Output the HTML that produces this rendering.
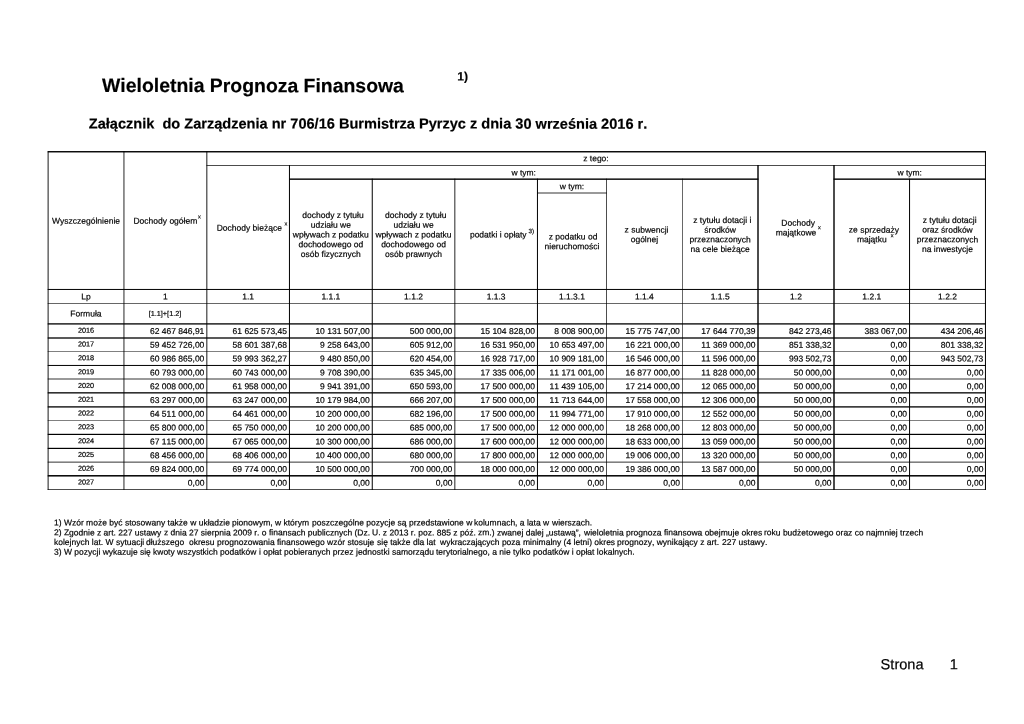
<!DOCTYPE html>
<html lang="pl">
<head>
<meta charset="utf-8">
<title>Wieloletnia Prognoza Finansowa</title>
<style>
html,body{margin:0;padding:0;background:#fff;}
body{width:1024px;height:724px;position:relative;overflow:hidden;font-family:"Liberation Sans",sans-serif;color:#000;text-rendering:geometricPrecision;font-kerning:none;font-variant-ligatures:none;}
.grid{position:absolute;left:0;top:0;}
.grid rect{fill:#000;}
.h,.y,.u,.v{-webkit-text-stroke:0.18px #000;paint-order:stroke fill;}
.P,.T,.S,.M{-webkit-text-stroke:0.18px #000;paint-order:stroke fill;}
.ln span{display:inline-block;transform-origin:0 0;white-space:pre;}
.t{position:absolute;left:0;top:0;margin:0;padding:0;height:0;line-height:0;white-space:pre;transform-origin:0 0;font-style:normal;vertical-align:baseline;}
.h{font-size:8.51px;font-weight:normal;}
.y{font-size:7.3px;font-weight:normal;}
.u{font-size:5.6px;font-weight:normal;}
.v{font-size:6.3px;font-weight:normal;}
.T{font-size:19.42px;font-weight:bold;}
.S{font-size:14.575px;font-weight:bold;}
.M{font-size:12.16px;font-weight:bold;}
.P{font-size:14.6px;font-weight:normal;}
</style>
</head>
<body>
<svg class="grid" width="1024" height="724" viewBox="0 0 1024 724" aria-hidden="true">
<rect x="47.70" y="151.05" width="938.15" height="1.40"/>
<rect x="206.45" y="165.15" width="779.40" height="0.70"/>
<rect x="289.05" y="178.45" width="469.35" height="1.40"/>
<rect x="833.60" y="178.45" width="152.25" height="1.40"/>
<rect x="537.05" y="192.60" width="69.80" height="0.80"/>
<rect x="47.70" y="288.95" width="938.15" height="1.00"/>
<rect x="47.70" y="303.00" width="938.15" height="0.60"/>
<rect x="47.70" y="323.25" width="938.15" height="1.30"/>
<rect x="47.70" y="337.35" width="938.15" height="1.30"/>
<rect x="47.70" y="351.30" width="938.15" height="0.50"/>
<rect x="47.70" y="364.95" width="938.15" height="1.00"/>
<rect x="47.70" y="378.60" width="938.15" height="0.80"/>
<rect x="47.70" y="392.20" width="938.15" height="1.30"/>
<rect x="47.70" y="406.25" width="938.15" height="1.30"/>
<rect x="47.70" y="420.20" width="938.15" height="0.50"/>
<rect x="47.70" y="433.80" width="938.15" height="1.20"/>
<rect x="47.70" y="447.80" width="938.15" height="1.20"/>
<rect x="47.70" y="461.70" width="938.15" height="0.80"/>
<rect x="47.70" y="475.05" width="938.15" height="1.50"/>
<rect x="47.70" y="489.10" width="938.15" height="0.70"/>
<rect x="47.65" y="151.25" width="0.90" height="338.70"/>
<rect x="123.53" y="151.25" width="0.85" height="338.70"/>
<rect x="206.40" y="151.25" width="0.90" height="338.70"/>
<rect x="984.95" y="151.25" width="1.00" height="338.70"/>
<rect x="288.95" y="165.00" width="1.00" height="324.95"/>
<rect x="757.30" y="165.00" width="1.40" height="324.95"/>
<rect x="833.30" y="165.00" width="1.40" height="324.95"/>
<rect x="371.75" y="178.65" width="1.00" height="311.30"/>
<rect x="454.43" y="178.65" width="0.85" height="311.30"/>
<rect x="536.95" y="178.65" width="1.00" height="311.30"/>
<rect x="606.10" y="178.65" width="0.70" height="311.30"/>
<rect x="682.05" y="178.65" width="0.60" height="311.30"/>
<rect x="909.05" y="178.65" width="1.00" height="311.30"/>
</svg>
<h1 class="t T" style="transform:matrix(1,0.0005,0,1,102.00,86.07)">Wieloletnia Prognoza Finansowa</h1>
<sup class="t M" style="transform:matrix(1,0.0005,0,1,457.30,76.40)">1)</sup>
<h2 class="t S" style="transform:matrix(1,0.0005,0,1,88.80,124.41)">Załącznik  do Zarządzenia nr 706/16 Burmistrza Pyrzyc z dnia 30 września 2016 r.</h2>
<div class="t h" style="transform:matrix(1,0.0005,0,1,51.97,220.78)">Wyszczególnienie</div>
<div class="t h" style="transform:matrix(1,0.0005,0,1,133.47,220.78)">Dochody ogółem</div>
<div class="t u" style="transform:matrix(1,0.0005,0,1,197.93,217.40)">x</div>
<div class="t h" style="transform:matrix(1,0.0005,0,1,583.18,158.22)">z tego:</div>
<div class="t h" style="transform:matrix(1,0.0005,0,1,216.71,227.66)">Dochody bieżące</div>
<div class="t u" style="transform:matrix(1,0.0005,0,1,284.39,224.47)">x</div>
<div class="t h" style="transform:matrix(1,0.0005,0,1,511.43,172.52)">w tym:</div>
<div class="t h" style="transform:matrix(1,0.0005,0,1,302.25,215.02)">dochody z tytułu</div>
<div class="t h" style="transform:matrix(1,0.0005,0,1,310.74,224.76)">udziału we</div>
<div class="t h" style="transform:matrix(1,0.0005,0,1,292.77,234.48)">wpływach z podatku</div>
<div class="t h" style="transform:matrix(1,0.0005,0,1,298.44,244.21)">dochodowego od</div>
<div class="t h" style="transform:matrix(1,0.0005,0,1,300.82,253.94)">osób fizycznych</div>
<div class="t h" style="transform:matrix(1,0.0005,0,1,384.95,215.02)">dochody z tytułu</div>
<div class="t h" style="transform:matrix(1,0.0005,0,1,393.44,224.76)">udziału we</div>
<div class="t h" style="transform:matrix(1,0.0005,0,1,375.47,234.48)">wpływach z podatku</div>
<div class="t h" style="transform:matrix(1,0.0005,0,1,381.14,244.21)">dochodowego od</div>
<div class="t h" style="transform:matrix(1,0.0005,0,1,384.93,253.95)">osób prawnych</div>
<div class="t h" style="transform:matrix(1,0.0005,0,1,469.92,234.49)">podatki i opłaty</div>
<div class="t v" style="transform:matrix(1,0.0005,0,1,528.38,232.20)">3)</div>
<div class="t h" style="transform:matrix(1,0.0005,0,1,559.66,186.27)">w tym:</div>
<div class="t h" style="transform:matrix(1,0.0005,0,1,548.68,236.55)">z podatku od</div>
<div class="t h" style="transform:matrix(1,0.0005,0,1,544.52,246.28)">nieruchomości</div>
<div class="t h" style="transform:matrix(1,0.0005,0,1,624.56,229.62)">z subwencji</div>
<div class="t h" style="transform:matrix(1,0.0005,0,1,630.68,239.36)">ogólnej</div>
<div class="t h" style="transform:matrix(1,0.0005,0,1,693.24,219.89)">z tytułu dotacji i</div>
<div class="t h" style="transform:matrix(1,0.0005,0,1,704.33,229.63)">środków</div>
<div class="t h" style="transform:matrix(1,0.0005,0,1,689.43,239.35)">przeznaczonych</div>
<div class="t h" style="transform:matrix(1,0.0005,0,1,690.61,249.08)">na cele bieżące</div>
<div class="t h" style="transform:matrix(1,0.0005,0,1,781.36,222.80)">Dochody</div>
<div class="t h" style="transform:matrix(1,0.0005,0,1,775.66,232.53)">majątkowe</div>
<div class="t u" style="transform:matrix(1,0.0005,0,1,818.04,228.34)">x</div>
<div class="t h" style="transform:matrix(1,0.0005,0,1,897.43,172.52)">w tym:</div>
<div class="t h" style="transform:matrix(1,0.0005,0,1,848.86,229.62)">ze sprzedaży</div>
<div class="t h" style="transform:matrix(1,0.0005,0,1,856.88,239.36)">majątku</div>
<div class="t u" style="transform:matrix(1,0.0005,0,1,890.87,236.36)">x</div>
<div class="t h" style="transform:matrix(1,0.0005,0,1,922.69,219.89)">z tytułu dotacji</div>
<div class="t h" style="transform:matrix(1,0.0005,0,1,922.20,229.62)">oraz środków</div>
<div class="t h" style="transform:matrix(1,0.0005,0,1,916.75,239.35)">przeznaczonych</div>
<div class="t h" style="transform:matrix(1,0.0005,0,1,921.96,249.08)">na inwestycje</div>
<div class="t h" style="transform:matrix(1,0.0005,0,1,81.29,296.60)">Lp</div>
<div class="t h" style="transform:matrix(1,0.0005,0,1,163.03,296.60)">1</div>
<div class="t h" style="transform:matrix(1,0.0005,0,1,242.23,296.60)">1.1</div>
<div class="t h" style="transform:matrix(1,0.0005,0,1,321.39,296.60)">1.1.1</div>
<div class="t h" style="transform:matrix(1,0.0005,0,1,404.09,296.60)">1.1.2</div>
<div class="t h" style="transform:matrix(1,0.0005,0,1,486.69,296.60)">1.1.3</div>
<div class="t h" style="transform:matrix(1,0.0005,0,1,558.94,296.59)">1.1.3.1</div>
<div class="t h" style="transform:matrix(1,0.0005,0,1,634.94,296.60)">1.1.4</div>
<div class="t h" style="transform:matrix(1,0.0005,0,1,710.71,296.60)">1.1.5</div>
<div class="t h" style="transform:matrix(1,0.0005,0,1,790.08,296.60)">1.2</div>
<div class="t h" style="transform:matrix(1,0.0005,0,1,862.31,296.60)">1.2.1</div>
<div class="t h" style="transform:matrix(1,0.0005,0,1,938.04,296.60)">1.2.2</div>
<div class="t h" style="transform:matrix(1,0.0005,0,1,70.34,313.39)">Formuła</div>
<div class="t y" style="transform:matrix(1,0.0005,0,1,148.66,313.89)">[1.1]+[1.2]</div>
<div class="t y" style="transform:matrix(1,0.0005,0,1,77.88,330.75)">2016</div>
<div class="t h" style="transform:matrix(1,0.0005,0,1,149.98,330.99)">62 467 846,91</div>
<div class="t h" style="transform:matrix(1,0.0005,0,1,232.58,330.99)">61 625 573,45</div>
<div class="t h" style="transform:matrix(1,0.0005,0,1,315.38,330.99)">10 131 507,00</div>
<div class="t h" style="transform:matrix(1,0.0005,0,1,409.81,330.99)">500 000,00</div>
<div class="t h" style="transform:matrix(1,0.0005,0,1,480.58,330.99)">15 104 828,00</div>
<div class="t h" style="transform:matrix(1,0.0005,0,1,554.31,330.99)">8 008 900,00</div>
<div class="t h" style="transform:matrix(1,0.0005,0,1,625.48,330.99)">15 775 747,00</div>
<div class="t h" style="transform:matrix(1,0.0005,0,1,701.13,330.99)">17 644 770,39</div>
<div class="t h" style="transform:matrix(1,0.0005,0,1,788.96,330.99)">842 273,46</div>
<div class="t h" style="transform:matrix(1,0.0005,0,1,864.51,330.99)">383 067,00</div>
<div class="t h" style="transform:matrix(1,0.0005,0,1,940.81,330.99)">434 206,46</div>
<div class="t y" style="transform:matrix(1,0.0005,0,1,77.88,344.55)">2017</div>
<div class="t h" style="transform:matrix(1,0.0005,0,1,149.98,344.79)">59 452 726,00</div>
<div class="t h" style="transform:matrix(1,0.0005,0,1,232.58,344.79)">58 601 387,68</div>
<div class="t h" style="transform:matrix(1,0.0005,0,1,320.11,344.79)">9 258 643,00</div>
<div class="t h" style="transform:matrix(1,0.0005,0,1,409.81,344.79)">605 912,00</div>
<div class="t h" style="transform:matrix(1,0.0005,0,1,480.58,344.79)">16 531 950,00</div>
<div class="t h" style="transform:matrix(1,0.0005,0,1,549.58,344.79)">10 653 497,00</div>
<div class="t h" style="transform:matrix(1,0.0005,0,1,625.48,344.79)">16 221 000,00</div>
<div class="t h" style="transform:matrix(1,0.0005,0,1,701.13,344.79)">11 369 000,00</div>
<div class="t h" style="transform:matrix(1,0.0005,0,1,788.96,344.79)">851 338,32</div>
<div class="t h" style="transform:matrix(1,0.0005,0,1,890.54,344.80)">0,00</div>
<div class="t h" style="transform:matrix(1,0.0005,0,1,940.81,344.79)">801 338,32</div>
<div class="t y" style="transform:matrix(1,0.0005,0,1,77.88,358.35)">2018</div>
<div class="t h" style="transform:matrix(1,0.0005,0,1,149.98,358.59)">60 986 865,00</div>
<div class="t h" style="transform:matrix(1,0.0005,0,1,232.58,358.59)">59 993 362,27</div>
<div class="t h" style="transform:matrix(1,0.0005,0,1,320.11,358.59)">9 480 850,00</div>
<div class="t h" style="transform:matrix(1,0.0005,0,1,409.81,358.59)">620 454,00</div>
<div class="t h" style="transform:matrix(1,0.0005,0,1,480.58,358.59)">16 928 717,00</div>
<div class="t h" style="transform:matrix(1,0.0005,0,1,549.58,358.59)">10 909 181,00</div>
<div class="t h" style="transform:matrix(1,0.0005,0,1,625.48,358.59)">16 546 000,00</div>
<div class="t h" style="transform:matrix(1,0.0005,0,1,701.13,358.59)">11 596 000,00</div>
<div class="t h" style="transform:matrix(1,0.0005,0,1,788.96,358.59)">993 502,73</div>
<div class="t h" style="transform:matrix(1,0.0005,0,1,890.54,358.60)">0,00</div>
<div class="t h" style="transform:matrix(1,0.0005,0,1,940.81,358.59)">943 502,73</div>
<div class="t y" style="transform:matrix(1,0.0005,0,1,77.88,372.15)">2019</div>
<div class="t h" style="transform:matrix(1,0.0005,0,1,149.98,372.39)">60 793 000,00</div>
<div class="t h" style="transform:matrix(1,0.0005,0,1,232.58,372.39)">60 743 000,00</div>
<div class="t h" style="transform:matrix(1,0.0005,0,1,320.11,372.39)">9 708 390,00</div>
<div class="t h" style="transform:matrix(1,0.0005,0,1,409.81,372.39)">635 345,00</div>
<div class="t h" style="transform:matrix(1,0.0005,0,1,480.58,372.39)">17 335 006,00</div>
<div class="t h" style="transform:matrix(1,0.0005,0,1,549.58,372.39)">11 171 001,00</div>
<div class="t h" style="transform:matrix(1,0.0005,0,1,625.48,372.39)">16 877 000,00</div>
<div class="t h" style="transform:matrix(1,0.0005,0,1,701.13,372.39)">11 828 000,00</div>
<div class="t h" style="transform:matrix(1,0.0005,0,1,793.69,372.39)">50 000,00</div>
<div class="t h" style="transform:matrix(1,0.0005,0,1,890.54,372.40)">0,00</div>
<div class="t h" style="transform:matrix(1,0.0005,0,1,966.84,372.40)">0,00</div>
<div class="t y" style="transform:matrix(1,0.0005,0,1,77.88,385.95)">2020</div>
<div class="t h" style="transform:matrix(1,0.0005,0,1,149.98,386.19)">62 008 000,00</div>
<div class="t h" style="transform:matrix(1,0.0005,0,1,232.58,386.19)">61 958 000,00</div>
<div class="t h" style="transform:matrix(1,0.0005,0,1,320.11,386.19)">9 941 391,00</div>
<div class="t h" style="transform:matrix(1,0.0005,0,1,409.81,386.19)">650 593,00</div>
<div class="t h" style="transform:matrix(1,0.0005,0,1,480.58,386.19)">17 500 000,00</div>
<div class="t h" style="transform:matrix(1,0.0005,0,1,549.58,386.19)">11 439 105,00</div>
<div class="t h" style="transform:matrix(1,0.0005,0,1,625.48,386.19)">17 214 000,00</div>
<div class="t h" style="transform:matrix(1,0.0005,0,1,701.13,386.19)">12 065 000,00</div>
<div class="t h" style="transform:matrix(1,0.0005,0,1,793.69,386.19)">50 000,00</div>
<div class="t h" style="transform:matrix(1,0.0005,0,1,890.54,386.20)">0,00</div>
<div class="t h" style="transform:matrix(1,0.0005,0,1,966.84,386.20)">0,00</div>
<div class="t y" style="transform:matrix(1,0.0005,0,1,77.88,399.75)">2021</div>
<div class="t h" style="transform:matrix(1,0.0005,0,1,149.98,399.99)">63 297 000,00</div>
<div class="t h" style="transform:matrix(1,0.0005,0,1,232.58,399.99)">63 247 000,00</div>
<div class="t h" style="transform:matrix(1,0.0005,0,1,315.38,399.99)">10 179 984,00</div>
<div class="t h" style="transform:matrix(1,0.0005,0,1,409.81,399.99)">666 207,00</div>
<div class="t h" style="transform:matrix(1,0.0005,0,1,480.58,399.99)">17 500 000,00</div>
<div class="t h" style="transform:matrix(1,0.0005,0,1,549.58,399.99)">11 713 644,00</div>
<div class="t h" style="transform:matrix(1,0.0005,0,1,625.48,399.99)">17 558 000,00</div>
<div class="t h" style="transform:matrix(1,0.0005,0,1,701.13,399.99)">12 306 000,00</div>
<div class="t h" style="transform:matrix(1,0.0005,0,1,793.69,399.99)">50 000,00</div>
<div class="t h" style="transform:matrix(1,0.0005,0,1,890.54,400.00)">0,00</div>
<div class="t h" style="transform:matrix(1,0.0005,0,1,966.84,400.00)">0,00</div>
<div class="t y" style="transform:matrix(1,0.0005,0,1,77.88,413.55)">2022</div>
<div class="t h" style="transform:matrix(1,0.0005,0,1,149.98,413.79)">64 511 000,00</div>
<div class="t h" style="transform:matrix(1,0.0005,0,1,232.58,413.79)">64 461 000,00</div>
<div class="t h" style="transform:matrix(1,0.0005,0,1,315.38,413.79)">10 200 000,00</div>
<div class="t h" style="transform:matrix(1,0.0005,0,1,409.81,413.79)">682 196,00</div>
<div class="t h" style="transform:matrix(1,0.0005,0,1,480.58,413.79)">17 500 000,00</div>
<div class="t h" style="transform:matrix(1,0.0005,0,1,549.58,413.79)">11 994 771,00</div>
<div class="t h" style="transform:matrix(1,0.0005,0,1,625.48,413.79)">17 910 000,00</div>
<div class="t h" style="transform:matrix(1,0.0005,0,1,701.13,413.79)">12 552 000,00</div>
<div class="t h" style="transform:matrix(1,0.0005,0,1,793.69,413.79)">50 000,00</div>
<div class="t h" style="transform:matrix(1,0.0005,0,1,890.54,413.80)">0,00</div>
<div class="t h" style="transform:matrix(1,0.0005,0,1,966.84,413.80)">0,00</div>
<div class="t y" style="transform:matrix(1,0.0005,0,1,77.88,427.35)">2023</div>
<div class="t h" style="transform:matrix(1,0.0005,0,1,149.98,427.59)">65 800 000,00</div>
<div class="t h" style="transform:matrix(1,0.0005,0,1,232.58,427.59)">65 750 000,00</div>
<div class="t h" style="transform:matrix(1,0.0005,0,1,315.38,427.59)">10 200 000,00</div>
<div class="t h" style="transform:matrix(1,0.0005,0,1,409.81,427.59)">685 000,00</div>
<div class="t h" style="transform:matrix(1,0.0005,0,1,480.58,427.59)">17 500 000,00</div>
<div class="t h" style="transform:matrix(1,0.0005,0,1,549.58,427.59)">12 000 000,00</div>
<div class="t h" style="transform:matrix(1,0.0005,0,1,625.48,427.59)">18 268 000,00</div>
<div class="t h" style="transform:matrix(1,0.0005,0,1,701.13,427.59)">12 803 000,00</div>
<div class="t h" style="transform:matrix(1,0.0005,0,1,793.69,427.59)">50 000,00</div>
<div class="t h" style="transform:matrix(1,0.0005,0,1,890.54,427.60)">0,00</div>
<div class="t h" style="transform:matrix(1,0.0005,0,1,966.84,427.60)">0,00</div>
<div class="t y" style="transform:matrix(1,0.0005,0,1,77.88,441.15)">2024</div>
<div class="t h" style="transform:matrix(1,0.0005,0,1,149.98,441.39)">67 115 000,00</div>
<div class="t h" style="transform:matrix(1,0.0005,0,1,232.58,441.39)">67 065 000,00</div>
<div class="t h" style="transform:matrix(1,0.0005,0,1,315.38,441.39)">10 300 000,00</div>
<div class="t h" style="transform:matrix(1,0.0005,0,1,409.81,441.39)">686 000,00</div>
<div class="t h" style="transform:matrix(1,0.0005,0,1,480.58,441.39)">17 600 000,00</div>
<div class="t h" style="transform:matrix(1,0.0005,0,1,549.58,441.39)">12 000 000,00</div>
<div class="t h" style="transform:matrix(1,0.0005,0,1,625.48,441.39)">18 633 000,00</div>
<div class="t h" style="transform:matrix(1,0.0005,0,1,701.13,441.39)">13 059 000,00</div>
<div class="t h" style="transform:matrix(1,0.0005,0,1,793.69,441.39)">50 000,00</div>
<div class="t h" style="transform:matrix(1,0.0005,0,1,890.54,441.40)">0,00</div>
<div class="t h" style="transform:matrix(1,0.0005,0,1,966.84,441.40)">0,00</div>
<div class="t y" style="transform:matrix(1,0.0005,0,1,77.88,454.95)">2025</div>
<div class="t h" style="transform:matrix(1,0.0005,0,1,149.98,455.19)">68 456 000,00</div>
<div class="t h" style="transform:matrix(1,0.0005,0,1,232.58,455.19)">68 406 000,00</div>
<div class="t h" style="transform:matrix(1,0.0005,0,1,315.38,455.19)">10 400 000,00</div>
<div class="t h" style="transform:matrix(1,0.0005,0,1,409.81,455.19)">680 000,00</div>
<div class="t h" style="transform:matrix(1,0.0005,0,1,480.58,455.19)">17 800 000,00</div>
<div class="t h" style="transform:matrix(1,0.0005,0,1,549.58,455.19)">12 000 000,00</div>
<div class="t h" style="transform:matrix(1,0.0005,0,1,625.48,455.19)">19 006 000,00</div>
<div class="t h" style="transform:matrix(1,0.0005,0,1,701.13,455.19)">13 320 000,00</div>
<div class="t h" style="transform:matrix(1,0.0005,0,1,793.69,455.19)">50 000,00</div>
<div class="t h" style="transform:matrix(1,0.0005,0,1,890.54,455.20)">0,00</div>
<div class="t h" style="transform:matrix(1,0.0005,0,1,966.84,455.20)">0,00</div>
<div class="t y" style="transform:matrix(1,0.0005,0,1,77.88,468.75)">2026</div>
<div class="t h" style="transform:matrix(1,0.0005,0,1,149.98,468.99)">69 824 000,00</div>
<div class="t h" style="transform:matrix(1,0.0005,0,1,232.58,468.99)">69 774 000,00</div>
<div class="t h" style="transform:matrix(1,0.0005,0,1,315.38,468.99)">10 500 000,00</div>
<div class="t h" style="transform:matrix(1,0.0005,0,1,409.81,468.99)">700 000,00</div>
<div class="t h" style="transform:matrix(1,0.0005,0,1,480.58,468.99)">18 000 000,00</div>
<div class="t h" style="transform:matrix(1,0.0005,0,1,549.58,468.99)">12 000 000,00</div>
<div class="t h" style="transform:matrix(1,0.0005,0,1,625.48,468.99)">19 386 000,00</div>
<div class="t h" style="transform:matrix(1,0.0005,0,1,701.13,468.99)">13 587 000,00</div>
<div class="t h" style="transform:matrix(1,0.0005,0,1,793.69,468.99)">50 000,00</div>
<div class="t h" style="transform:matrix(1,0.0005,0,1,890.54,469.00)">0,00</div>
<div class="t h" style="transform:matrix(1,0.0005,0,1,966.84,469.00)">0,00</div>
<div class="t y" style="transform:matrix(1,0.0005,0,1,77.88,482.55)">2027</div>
<div class="t h" style="transform:matrix(1,0.0005,0,1,187.84,482.80)">0,00</div>
<div class="t h" style="transform:matrix(1,0.0005,0,1,270.44,482.80)">0,00</div>
<div class="t h" style="transform:matrix(1,0.0005,0,1,353.24,482.80)">0,00</div>
<div class="t h" style="transform:matrix(1,0.0005,0,1,435.84,482.80)">0,00</div>
<div class="t h" style="transform:matrix(1,0.0005,0,1,518.44,482.80)">0,00</div>
<div class="t h" style="transform:matrix(1,0.0005,0,1,587.44,482.80)">0,00</div>
<div class="t h" style="transform:matrix(1,0.0005,0,1,663.34,482.80)">0,00</div>
<div class="t h" style="transform:matrix(1,0.0005,0,1,738.99,482.80)">0,00</div>
<div class="t h" style="transform:matrix(1,0.0005,0,1,814.99,482.80)">0,00</div>
<div class="t h" style="transform:matrix(1,0.0005,0,1,890.54,482.80)">0,00</div>
<div class="t h" style="transform:matrix(1,0.0005,0,1,966.84,482.80)">0,00</div>
<p class="t h ln" style="left:54.20px;top:522px"><span style="transform:matrix(1,0.0005,0,1,0,0.58)">1) Wzór może być </span><span style="transform:matrix(1,0.0005,0,1,0,0.57)">stosowany także w układzie </span><span style="transform:matrix(1,0.0005,0,1,0,0.58)">pionowym, w którym </span><span style="transform:matrix(1,0.0005,0,1,0,0.58)">poszczególne pozycje są </span><span style="transform:matrix(1,0.0005,0,1,0,0.58)">przedstawione w </span><span style="transform:matrix(1,0.0005,0,1,0,0.58)">kolumnach, a lata w </span><span style="transform:matrix(1,0.0005,0,1,0,0.59)">wierszach.</span></p>
<p class="t h ln" style="left:54.00px;top:532px"><span style="transform:matrix(1,0.0005,0,1,0,0.37)">2) Zgodnie z art. 227 ustawy </span><span style="transform:matrix(1,0.0005,0,1,0,0.37)">z dnia 27 sierpnia 2009 r. o </span><span style="transform:matrix(1,0.0005,0,1,0,0.37)">finansach publicznych (Dz. </span><span style="transform:matrix(1,0.0005,0,1,0,0.37)">U. z 2013 r. poz. 885 z póź. </span><span style="transform:matrix(1,0.0005,0,1,0,0.37)">zm.) zwanej dalej „ustawą”, </span><span style="transform:matrix(1,0.0005,0,1,0,0.38)">wieloletnia prognoza </span><span style="transform:matrix(1,0.0005,0,1,0,0.37)">finansowa obejmuje okres </span><span style="transform:matrix(1,0.0005,0,1,0,0.37)">roku budżetowego oraz co </span><span style="transform:matrix(1,0.0005,0,1,0,0.39)">najmniej trzech</span></p>
<p class="t h ln" style="left:53.80px;top:542px"><span style="transform:matrix(1,0.0005,0,1,0,0.08)">kolejnych lat. W sytuacji </span><span style="transform:matrix(1,0.0005,0,1,0,0.08)">dłuższego  okresu </span><span style="transform:matrix(1,0.0005,0,1,0,0.08)">prognozowania </span><span style="transform:matrix(1,0.0005,0,1,0,0.08)">finansowego wzór stosuje </span><span style="transform:matrix(1,0.0005,0,1,0,0.08)">się także dla lat  </span><span style="transform:matrix(1,0.0005,0,1,0,0.08)">wykraczających poza </span><span style="transform:matrix(1,0.0005,0,1,0,0.08)">minimalny (4 letni) okres </span><span style="transform:matrix(1,0.0005,0,1,0,0.07)">prognozy, wynikający z art. </span><span style="transform:matrix(1,0.0005,0,1,0,0.09)">227 ustawy.</span></p>
<p class="t h ln" style="left:54.00px;top:551px"><span style="transform:matrix(1,0.0005,0,1,0,0.78)">3) W pozycji wykazuje się </span><span style="transform:matrix(1,0.0005,0,1,0,0.77)">kwoty wszystkich podatków </span><span style="transform:matrix(1,0.0005,0,1,0,0.78)">i opłat pobieranych przez </span><span style="transform:matrix(1,0.0005,0,1,0,0.78)">jednostki samorządu </span><span style="transform:matrix(1,0.0005,0,1,0,0.78)">terytorialnego, a nie tylko </span><span style="transform:matrix(1,0.0005,0,1,0,0.77)">podatków i opłat lokalnych.</span></p>
<div class="t P" style="transform:matrix(1,0.0005,0,1,880.60,665.19)">Strona</div>
<div class="t P" style="transform:matrix(1,0.0005,0,1,949.80,665.20)">1</div>
</body>
</html>
